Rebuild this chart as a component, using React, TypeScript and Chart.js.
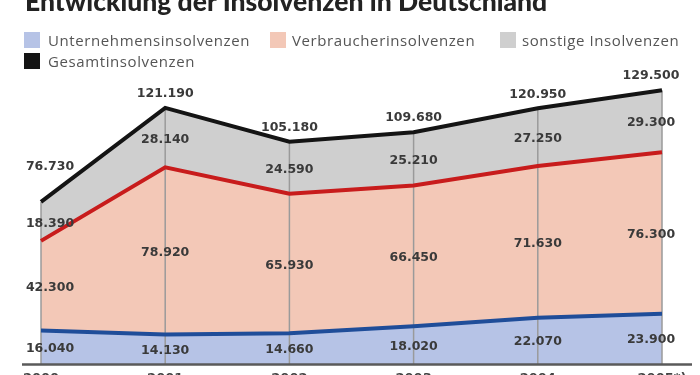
import React, { useEffect, useRef } from 'react';
import { Chart, registerables } from 'chart.js';

Chart.register(...registerables);

const years = ['2000', '2001', '2002', '2003', '2004', '2005*)'];
const unternehmen = [16040, 14130, 14660, 18020, 22070, 23900];
const verbraucher = [42300, 78920, 65930, 66450, 71630, 76300];
const sonstige = [18390, 28140, 24590, 25210, 27250, 29300];
const gesamt = [76730, 121190, 105180, 109680, 120950, 129500];

const legendNames = ['Unternehmensinsolvenzen', 'Verbraucherinsolvenzen', 'sonstige Insolvenzen', 'Gesamtinsolvenzen'];

const COL_BLUE = '#b6c3e6';
const COL_SALMON = '#f3c8b7';
const COL_GRAY = '#cfcfcf';
const COL_BLACK = '#141414';

const fmt = (v: number) => String(v).replace(/\B(?=(\d{3})+(?!\d))/g, '.');

const overlay = {
  id: 'overlay',
  beforeDatasetsDraw(chart: any) {
    const { ctx, scales } = chart;
    const x = scales.x;
    const y = scales.y;
    ctx.save();
    ctx.strokeStyle = '#9a9a9a';
    ctx.lineWidth = 1.5;
    gesamt.forEach((v, i) => {
      const px = x.getPixelForValue(i);
      ctx.beginPath();
      ctx.moveTo(px, y.getPixelForValue(0));
      ctx.lineTo(px, y.getPixelForValue(v));
      ctx.stroke();
    });
    ctx.restore();
  },
  afterDatasetsDraw(chart: any) {
    const { ctx, scales, chartArea } = chart;
    const x = scales.x;
    const y = scales.y;
    ctx.save();
    const by = y.getPixelForValue(0);
    ctx.strokeStyle = '#5a5a5a';
    ctx.lineWidth = 2.5;
    ctx.beginPath();
    ctx.moveTo(chartArea.left - 19, by);
    ctx.lineTo(chartArea.right + 30, by);
    ctx.stroke();

    ctx.font = 'bold 12.5px "DejaVu Sans"';
    ctx.fillStyle = '#3a3a3a';
    ctx.textAlign = 'center';
    ctx.textBaseline = 'middle';
    const n = gesamt.length;
    for (let i = 0; i < n; i++) {
      const dx = i === 0 ? 9 : i === n - 1 ? -11 : 0;
      const px = x.getPixelForValue(i) + dx;
      const c1 = unternehmen[i];
      const c2 = c1 + verbraucher[i];
      const c3 = c2 + sonstige[i];
      const y0 = y.getPixelForValue(0);
      const y1 = y.getPixelForValue(c1);
      const y2 = y.getPixelForValue(c2);
      const y3 = y.getPixelForValue(c3);
      ctx.fillText(fmt(unternehmen[i]), px, (y0 + y1) / 2 + 1);
      ctx.fillText(fmt(verbraucher[i]), px, (y1 + y2) / 2 + 2);
      ctx.fillText(fmt(sonstige[i]), px, (y2 + y3) / 2 + 2);
      const yt = y.getPixelForValue(gesamt[i]);
      ctx.fillText(fmt(gesamt[i]), px, yt - (i === 0 ? 35 : 14));
    }
    ctx.restore();
  },
};

export default function App() {
  const ref = useRef<HTMLCanvasElement | null>(null);

  useEffect(() => {
    if (!ref.current) return;
    const chart = new Chart(ref.current, {
      type: 'line',
      data: {
        labels: years,
        datasets: [
          {
            label: legendNames[0],
            data: unternehmen,
            stack: 'parts',
            fill: 'origin',
            backgroundColor: COL_BLUE,
            borderColor: '#1f4d99',
            borderWidth: 4,
            pointRadius: 0,
            tension: 0,
          },
          {
            label: legendNames[1],
            data: verbraucher,
            stack: 'parts',
            fill: '-1',
            backgroundColor: COL_SALMON,
            borderColor: '#c81c1c',
            borderWidth: 4,
            pointRadius: 0,
            tension: 0,
          },
          {
            label: legendNames[2],
            data: sonstige,
            stack: 'parts',
            fill: '-1',
            backgroundColor: COL_GRAY,
            borderColor: COL_GRAY,
            borderWidth: 0,
            pointRadius: 0,
            tension: 0,
          },
          {
            label: legendNames[3],
            data: gesamt,
            stack: 'total',
            fill: false,
            backgroundColor: COL_BLACK,
            borderColor: COL_BLACK,
            borderWidth: 4,
            pointRadius: 0,
            tension: 0,
          },
        ],
      },
      options: {
        animation: false,
        responsive: true,
        maintainAspectRatio: false,
        layout: { padding: { left: 41, right: 38, top: 68, bottom: 4 } },
        plugins: {
          legend: { display: false },
          title: { display: false },
          tooltip: { enabled: false },
          filler: { drawTime: 'beforeDatasetsDraw' },
        },
        scales: {
          x: {
            offset: false,
            grid: { display: false, drawTicks: false },
            border: { display: false },
            ticks: {
              padding: 6,
              color: '#444',
              font: { family: '"DejaVu Sans"', size: 13, weight: 'bold' },
              maxRotation: 0,
              autoSkip: false,
            },
          },
          y: {
            display: false,
            stacked: true,
            min: 0,
            max: 140000,
          },
        },
      },
      plugins: [overlay],
    } as any);
    return () => chart.destroy();
  }, []);

  const legendText: React.CSSProperties = {
    position: 'absolute',
    fontFamily: '"Open Sans", sans-serif',
    fontSize: 15,
    lineHeight: '16px',
    color: '#555',
    whiteSpace: 'nowrap',
    letterSpacing: '0.6px',
  };
  const box = (left: number, top: number, color: string): React.CSSProperties => ({
    position: 'absolute',
    left,
    top,
    width: 16,
    height: 16,
    background: color,
  });

  return (
    <div style={{ position: 'absolute', left: 0, top: 0, width: 700, height: 375, overflow: 'hidden', background: '#fff' }}>
      <div style={{ position: 'absolute', left: 0, top: 0, width: 700, height: 396 }}>
        <canvas ref={ref} />
      </div>
      <div
        style={{
          position: 'absolute',
          left: 25,
          top: -14,
          fontFamily: 'Lato, sans-serif',
          fontWeight: 900,
          fontSize: 26.5,
          lineHeight: '30px',
          color: '#222',
          whiteSpace: 'nowrap',
        }}
      >
        Entwicklung der Insolvenzen in Deutschland
      </div>
      <div style={box(24, 32, COL_BLUE)} />
      <div style={{ ...legendText, left: 48, top: 32 }}>{legendNames[0]}</div>
      <div style={box(270, 32, COL_SALMON)} />
      <div style={{ ...legendText, left: 292, top: 32 }}>{legendNames[1]}</div>
      <div style={box(500, 32, COL_GRAY)} />
      <div style={{ ...legendText, left: 522, top: 32 }}>{legendNames[2]}</div>
      <div style={box(24, 53, COL_BLACK)} />
      <div style={{ ...legendText, left: 48, top: 53 }}>{legendNames[3]}</div>
    </div>
  );
}
